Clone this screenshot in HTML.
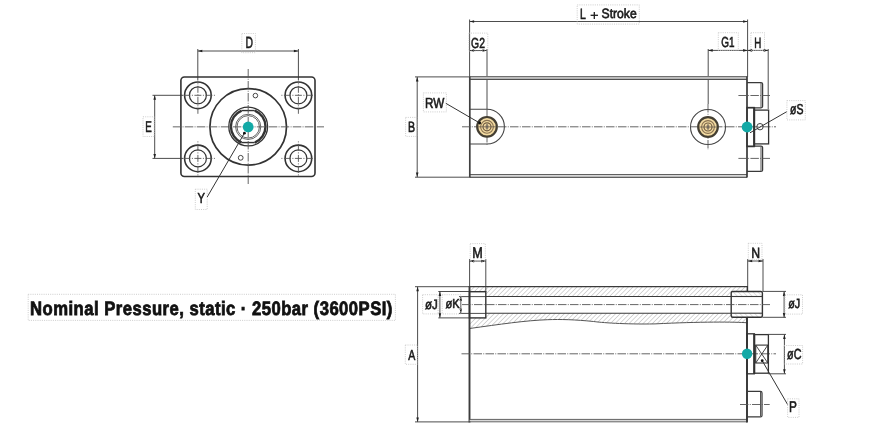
<!DOCTYPE html>
<html><head><meta charset="utf-8"><style>
html,body{margin:0;padding:0;background:#fff;width:870px;height:435px;overflow:hidden}
svg{display:block;font-family:"Liberation Sans",sans-serif;will-change:transform;text-rendering:geometricPrecision}
</style></head><body>
<svg width="870" height="435" viewBox="0 0 870 435">
<line x1="197.8" y1="49" x2="197.8" y2="80.5" stroke="#4d4d4d" stroke-width="1.0" />
<line x1="298.4" y1="49" x2="298.4" y2="80.5" stroke="#4d4d4d" stroke-width="1.0" />
<line x1="197.8" y1="51" x2="298.4" y2="51" stroke="#4d4d4d" stroke-width="1.0" />
<polygon points="197.8,51 202.30,49.70 202.30,52.30" fill="#222"/>
<polygon points="298.4,51 293.90,52.30 293.90,49.70" fill="#222"/>
<rect x="241.8" y="33.5" width="13.60" height="19.20" fill="none" stroke="#c0c0c0" stroke-width="0.8" stroke-dasharray="1 1.2"/>
<line x1="152.5" y1="95.3" x2="183" y2="95.3" stroke="#4d4d4d" stroke-width="1.0" />
<line x1="152.5" y1="158.4" x2="183" y2="158.4" stroke="#4d4d4d" stroke-width="1.0" />
<line x1="154.7" y1="95.3" x2="154.7" y2="158.4" stroke="#4d4d4d" stroke-width="1.0" />
<polygon points="154.7,95.3 156.00,99.80 153.40,99.80" fill="#222"/>
<polygon points="154.7,158.4 153.40,153.90 156.00,153.90" fill="#222"/>
<rect x="143" y="116.8" width="11.20" height="19.70" fill="none" stroke="#c0c0c0" stroke-width="0.8" stroke-dasharray="1 1.2"/>
<rect x="180.9" y="77.0" width="134.1" height="99.5" rx="3.5" fill="none" stroke="#333" stroke-width="1.6"/>
<circle cx="197.9" cy="95.3" r="13.3" stroke="#333" stroke-width="1.6" fill="none"/>
<circle cx="197.9" cy="95.3" r="8.5" stroke="#333" stroke-width="1.2" fill="none"/>
<line x1="179.4" y1="95.3" x2="216.4" y2="95.3" stroke="#555" stroke-width="0.9" stroke-dasharray="7 1.5 1 1.5" stroke-dashoffset="-4"/>
<line x1="197.9" y1="82.3" x2="197.9" y2="113.8" stroke="#555" stroke-width="0.9" stroke-dasharray="7 1.5 1 1.5" stroke-dashoffset="-3.5"/>
<circle cx="197.9" cy="158.4" r="13.3" stroke="#333" stroke-width="1.6" fill="none"/>
<circle cx="197.9" cy="158.4" r="8.5" stroke="#333" stroke-width="1.2" fill="none"/>
<line x1="179.4" y1="158.4" x2="216.4" y2="158.4" stroke="#555" stroke-width="0.9" stroke-dasharray="7 1.5 1 1.5" stroke-dashoffset="-4"/>
<line x1="197.9" y1="139.9" x2="197.9" y2="176.9" stroke="#555" stroke-width="0.9" stroke-dasharray="7 1.5 1 1.5" stroke-dashoffset="-4"/>
<circle cx="298.4" cy="95.3" r="13.3" stroke="#333" stroke-width="1.6" fill="none"/>
<circle cx="298.4" cy="95.3" r="8.5" stroke="#333" stroke-width="1.2" fill="none"/>
<line x1="279.9" y1="95.3" x2="316.9" y2="95.3" stroke="#555" stroke-width="0.9" stroke-dasharray="7 1.5 1 1.5" stroke-dashoffset="-4"/>
<line x1="298.4" y1="82.3" x2="298.4" y2="113.8" stroke="#555" stroke-width="0.9" stroke-dasharray="7 1.5 1 1.5" stroke-dashoffset="-3.5"/>
<circle cx="298.4" cy="158.4" r="13.3" stroke="#333" stroke-width="1.6" fill="none"/>
<circle cx="298.4" cy="158.4" r="8.5" stroke="#333" stroke-width="1.2" fill="none"/>
<line x1="279.9" y1="158.4" x2="316.9" y2="158.4" stroke="#555" stroke-width="0.9" stroke-dasharray="7 1.5 1 1.5" stroke-dashoffset="-4"/>
<line x1="298.4" y1="139.9" x2="298.4" y2="176.9" stroke="#555" stroke-width="0.9" stroke-dasharray="7 1.5 1 1.5" stroke-dashoffset="-4"/>
<circle cx="248.2" cy="126.85" r="38.3" stroke="#333" stroke-width="1.7" fill="none"/>
<circle cx="255.4" cy="95.6" r="2.3" stroke="#333" stroke-width="0.9" fill="none"/>
<circle cx="240.7" cy="157.8" r="2.4" stroke="#333" stroke-width="0.9" fill="none"/>
<circle cx="248.2" cy="126.55" r="19.4" stroke="#333" stroke-width="1.3" fill="none"/>
<path d="M241.62,110.55 A17.3,17.3 0 0 0 241.62,142.55" stroke="#333" stroke-width="2.4" fill="none" />
<path d="M254.78,110.55 A17.3,17.3 0 0 1 254.78,142.55" stroke="#333" stroke-width="2.4" fill="none" />
<line x1="241.6204863401616" y1="110.55" x2="254.7795136598384" y2="110.55" stroke="#333" stroke-width="1.4" />
<line x1="241.6204863401616" y1="142.55" x2="254.7795136598384" y2="142.55" stroke="#333" stroke-width="1.4" />
<circle cx="248.2" cy="126.85" r="12.6" stroke="#555" stroke-width="0.9" fill="none"/>
<circle cx="248.2" cy="126.85" r="11.2" stroke="#555" stroke-width="0.9" fill="none"/>
<line x1="172.8" y1="126.85" x2="324" y2="126.85" stroke="#555" stroke-width="0.9" stroke-dasharray="8.5 1.3 0.9 1.3"/>
<line x1="248.2" y1="69" x2="248.2" y2="184" stroke="#555" stroke-width="0.9" stroke-dasharray="8.5 1.3 0.9 1.3"/>
<circle cx="248.2" cy="126.94999999999999" r="5.4" stroke="#13a9a6" stroke-width="0" fill="#13a9a6"/>
<line x1="244.4" y1="133.2" x2="207.2" y2="197" stroke="#333" stroke-width="1.0" />
<circle cx="244.4" cy="133.2" r="1.4" stroke="#111" stroke-width="0" fill="#111"/>
<rect x="195.3" y="189.2" width="11.90" height="20.30" fill="none" stroke="#c0c0c0" stroke-width="0.8" stroke-dasharray="1 1.2"/>
<line x1="469.6" y1="19.5" x2="469.6" y2="77" stroke="#4d4d4d" stroke-width="1.0" />
<line x1="747.6" y1="19.5" x2="747.6" y2="77" stroke="#4d4d4d" stroke-width="1.0" />
<line x1="469.6" y1="21.5" x2="747.6" y2="21.5" stroke="#4d4d4d" stroke-width="1.0" />
<polygon points="469.6,21.5 474.10,20.20 474.10,22.80" fill="#222"/>
<polygon points="747.6,21.5 743.10,22.80 743.10,20.20" fill="#222"/>
<rect x="577.2" y="4.9" width="62.10" height="19.20" fill="none" stroke="#c0c0c0" stroke-width="0.8" stroke-dasharray="1 1.2"/>
<line x1="590.6" y1="15.3" x2="598" y2="15.3" stroke="#1e1e1e" stroke-width="1.3" />
<line x1="594.3" y1="11.9" x2="594.3" y2="18.9" stroke="#1e1e1e" stroke-width="1.3" />
<line x1="487" y1="49" x2="487" y2="109.5" stroke="#4d4d4d" stroke-width="1.0" />
<line x1="469.6" y1="50.5" x2="487" y2="50.5" stroke="#4d4d4d" stroke-width="1.0" />
<polygon points="469.6,50.5 474.10,49.20 474.10,51.80" fill="#222"/>
<polygon points="487,50.5 482.50,51.80 482.50,49.20" fill="#222"/>
<rect x="468.8" y="33.1" width="19.00" height="17.90" fill="none" stroke="#c0c0c0" stroke-width="0.8" stroke-dasharray="1 1.2"/>
<line x1="708.2" y1="49" x2="708.2" y2="104" stroke="#4d4d4d" stroke-width="1.0" />
<line x1="708.2" y1="50.4" x2="747.6" y2="50.4" stroke="#4d4d4d" stroke-width="1.0" />
<polygon points="708.2,50.4 712.70,49.10 712.70,51.70" fill="#222"/>
<polygon points="747.6,50.4 743.10,51.70 743.10,49.10" fill="#222"/>
<rect x="718.3" y="32.7" width="20.00" height="17.80" fill="none" stroke="#c0c0c0" stroke-width="0.8" stroke-dasharray="1 1.2"/>
<line x1="768.2" y1="49" x2="768.2" y2="109" stroke="#4d4d4d" stroke-width="1.0" />
<line x1="747.6" y1="50.4" x2="768.2" y2="50.4" stroke="#4d4d4d" stroke-width="1.0" />
<polygon points="747.6,50.4 752.10,49.10 752.10,51.70" fill="#222"/>
<polygon points="768.2,50.4 763.70,51.70 763.70,49.10" fill="#222"/>
<rect x="750.9" y="32.7" width="13.60" height="17.80" fill="none" stroke="#c0c0c0" stroke-width="0.8" stroke-dasharray="1 1.2"/>
<line x1="415" y1="76.9" x2="469.6" y2="76.9" stroke="#4d4d4d" stroke-width="1.0" />
<line x1="415" y1="177.2" x2="469.6" y2="177.2" stroke="#4d4d4d" stroke-width="1.0" />
<line x1="417.2" y1="77" x2="417.2" y2="177.1" stroke="#4d4d4d" stroke-width="1.0" />
<polygon points="417.2,77 418.50,81.50 415.90,81.50" fill="#222"/>
<polygon points="417.2,177.1 415.90,172.60 418.50,172.60" fill="#222"/>
<rect x="405.6" y="117.4" width="11.30" height="19.00" fill="none" stroke="#c0c0c0" stroke-width="0.8" stroke-dasharray="1 1.2"/>
<rect x="423.4" y="92.9" width="23.00" height="19.00" fill="none" stroke="#c0c0c0" stroke-width="0.8" stroke-dasharray="1 1.2"/>
<rect x="469.6" y="77" width="277.4" height="2" fill="#d8d8d8"/>
<rect x="469.6" y="175" width="277.4" height="2" fill="#d8d8d8"/>
<line x1="469.6" y1="76.6" x2="747" y2="76.6" stroke="#707070" stroke-width="1.1" />
<line x1="469.6" y1="79.4" x2="747" y2="79.4" stroke="#505050" stroke-width="1.1" />
<line x1="469.6" y1="174.5" x2="747" y2="174.5" stroke="#606060" stroke-width="1.1" />
<line x1="469.6" y1="177.4" x2="747" y2="177.4" stroke="#606060" stroke-width="1.1" />
<line x1="469.8" y1="76.5" x2="469.8" y2="177.5" stroke="#404040" stroke-width="1.7" />
<line x1="747" y1="76.5" x2="747" y2="177.5" stroke="#383838" stroke-width="1.7" />
<path d="M469.8,109.2 H487 A17.4,17.4 0 0 1 487,144 H469.8" stroke="#444" stroke-width="1.1" fill="none" />
<circle cx="708" cy="127" r="17.5" stroke="#444" stroke-width="1.1" fill="none"/>
<line x1="462" y1="126.8" x2="776" y2="126.8" stroke="#555" stroke-width="0.9" stroke-dasharray="8.5 1.3 0.9 1.3"/>
<line x1="487" y1="110" x2="487" y2="146" stroke="#555" stroke-width="0.9" stroke-dasharray="8.5 1.3 0.9 1.3"/>
<line x1="708" y1="104" x2="708" y2="150" stroke="#555" stroke-width="0.9" stroke-dasharray="8.5 1.3 0.9 1.3"/>
<circle cx="487" cy="126.8" r="9.8" stroke="#443f33" stroke-width="2.2" fill="#f3dba2"/>
<circle cx="487" cy="126.8" r="6.4" stroke="#8a7352" stroke-width="1.1" fill="none"/>
<circle cx="487" cy="126.8" r="4.0" stroke="#6f5a40" stroke-width="1.2" fill="none"/>
<circle cx="487" cy="126.8" r="2.2" stroke="#c9b089" stroke-width="0" fill="#c9b089"/>
<line x1="478" y1="126.8" x2="496" y2="126.8" stroke="#6a6050" stroke-width="0.8" />
<line x1="487" y1="124.0" x2="487" y2="129.6" stroke="#444" stroke-width="0.9" />
<circle cx="708" cy="127" r="9.8" stroke="#443f33" stroke-width="2.2" fill="#f3dba2"/>
<circle cx="708" cy="127" r="6.4" stroke="#8a7352" stroke-width="1.1" fill="none"/>
<circle cx="708" cy="127" r="4.0" stroke="#6f5a40" stroke-width="1.2" fill="none"/>
<circle cx="708" cy="127" r="2.2" stroke="#c9b089" stroke-width="0" fill="#c9b089"/>
<line x1="699" y1="127" x2="717" y2="127" stroke="#6a6050" stroke-width="0.8" />
<line x1="708" y1="124.2" x2="708" y2="129.8" stroke="#444" stroke-width="0.9" />
<line x1="445.8" y1="103.3" x2="479.7" y2="123" stroke="#333" stroke-width="1.0" />
<circle cx="479.7" cy="123" r="1.4" stroke="#111" stroke-width="0" fill="#111"/>
<path d="M747,82.5 H761 Q762.6,82.5 762.6,84 V106.3 Q762.6,107.8 761,107.8 H747" stroke="#3a3a3a" stroke-width="1.25" fill="none" />
<line x1="761" y1="83" x2="761" y2="107.3" stroke="#555" stroke-width="1.0" />
<path d="M747,146.1 H761 Q762.6,146.1 762.6,147.6 V169.9 Q762.6,171.4 761,171.4 H747" stroke="#3a3a3a" stroke-width="1.25" fill="none" />
<line x1="761" y1="146.6" x2="761" y2="170.9" stroke="#555" stroke-width="1.0" />
<line x1="738.4" y1="95.5" x2="770" y2="95.5" stroke="#555" stroke-width="0.9" stroke-dasharray="8.5 1.3 0.9 1.3"/>
<line x1="738.4" y1="158.4" x2="770" y2="158.4" stroke="#555" stroke-width="0.9" stroke-dasharray="8.5 1.3 0.9 1.3"/>
<rect x="747" y="107.5" width="7.2" height="39.1" fill="none" stroke="#333" stroke-width="1.3"/>
<line x1="754.2" y1="107.5" x2="754.2" y2="146.6" stroke="#333" stroke-width="2.0" />
<rect x="754.2" y="110.1" width="14.4" height="33.8" fill="none" stroke="#333" stroke-width="1.3"/>
<circle cx="760" cy="126.7" r="3.2" stroke="#444" stroke-width="1.0" fill="none"/>
<circle cx="747.1" cy="127" r="5.4" stroke="#13a9a6" stroke-width="0" fill="#13a9a6"/>
<line x1="750" y1="132.8" x2="786.9" y2="111.6" stroke="#333" stroke-width="1.0" />
<rect x="786.9" y="100.6" width="18.40" height="19.30" fill="none" stroke="#c0c0c0" stroke-width="0.8" stroke-dasharray="1 1.2"/>
<defs><pattern id="h" patternUnits="userSpaceOnUse" width="3.3" height="3.3" patternTransform="rotate(45)"><line x1="0" y1="0" x2="0" y2="3.3" stroke="#949494" stroke-width="0.75"/></pattern><pattern id="h2" patternUnits="userSpaceOnUse" width="3.5" height="3.5" patternTransform="rotate(-45)"><line x1="0" y1="0" x2="0" y2="3.5" stroke="#b0b0b0" stroke-width="0.7"/></pattern><clipPath id="c1"><rect x="0" y="0" width="870" height="435"/></clipPath></defs>
<path d="M469.6,286.6 H747.5 V291.5 H731.2 V296.5 H485.8 V291.7 H469.6 Z" fill="url(#h)"/>
<path d="M485.8,313.3 H731.2 V317.3 H747.5 V322.8 C735,321.8 700,321.6 655,323.9 C625,324.5 600,322.5 593.7,321.5 C575,319.6 560,319.2 547.8,319.7 C525,320.5 500,324.3 469.6,328.5 V317.9 H485.8 Z" fill="url(#h)"/>
<path d="M731.2,291.5 H762.4 V296.5 H731.2 Z M731.2,313.2 H762.4 V317.3 H731.2 Z" fill="url(#h2)"/>
<path d="M747.5,322.8 C735,321.8 700,321.6 655,323.9 C625,324.5 600,322.5 593.7,321.5 C575,319.6 560,319.2 547.8,319.7 C525,320.5 500,324.3 469.6,328.5" stroke="#555" stroke-width="1.0" fill="none" />
<line x1="469.6" y1="259" x2="469.6" y2="287" stroke="#4d4d4d" stroke-width="1.0" />
<line x1="485.8" y1="259" x2="485.8" y2="291.7" stroke="#4d4d4d" stroke-width="1.0" />
<line x1="469.6" y1="261.1" x2="485.8" y2="261.1" stroke="#4d4d4d" stroke-width="1.0" />
<polygon points="469.6,261.1 474.10,259.80 474.10,262.40" fill="#222"/>
<polygon points="485.8,261.1 481.30,262.40 481.30,259.80" fill="#222"/>
<rect x="470.2" y="243.6" width="15.10" height="17.60" fill="none" stroke="#c0c0c0" stroke-width="0.8" stroke-dasharray="1 1.2"/>
<line x1="747.7" y1="259" x2="747.7" y2="291.4" stroke="#4d4d4d" stroke-width="1.0" />
<line x1="763" y1="259" x2="763" y2="291.4" stroke="#4d4d4d" stroke-width="1.0" />
<line x1="747.7" y1="261.0" x2="763" y2="261.0" stroke="#4d4d4d" stroke-width="1.0" />
<polygon points="747.7,261.0 752.20,259.70 752.20,262.30" fill="#222"/>
<polygon points="763,261.0 758.50,262.30 758.50,259.70" fill="#222"/>
<rect x="748.3" y="243.3" width="13.70" height="16.50" fill="none" stroke="#c0c0c0" stroke-width="0.8" stroke-dasharray="1 1.2"/>
<line x1="415" y1="286.7" x2="469.6" y2="286.7" stroke="#4d4d4d" stroke-width="1.0" />
<line x1="415" y1="421.9" x2="469.6" y2="421.9" stroke="#4d4d4d" stroke-width="1.0" />
<line x1="417.6" y1="286.8" x2="417.6" y2="421.9" stroke="#4d4d4d" stroke-width="1.0" />
<polygon points="417.6,286.8 418.90,291.30 416.30,291.30" fill="#222"/>
<polygon points="417.6,421.9 416.30,417.40 418.90,417.40" fill="#222"/>
<rect x="405.3" y="345.0" width="12.10" height="19.30" fill="none" stroke="#c0c0c0" stroke-width="0.8" stroke-dasharray="1 1.2"/>
<line x1="438.3" y1="291.5" x2="469.6" y2="291.5" stroke="#4d4d4d" stroke-width="1.0" />
<line x1="438.3" y1="317.9" x2="469.6" y2="317.9" stroke="#4d4d4d" stroke-width="1.0" />
<line x1="439.9" y1="291.6" x2="439.9" y2="317.8" stroke="#4d4d4d" stroke-width="1.0" />
<polygon points="439.9,291.6 441.20,296.10 438.60,296.10" fill="#222"/>
<polygon points="439.9,317.8 438.60,313.30 441.20,313.30" fill="#222"/>
<rect x="422.6" y="294.7" width="15.50" height="19.20" fill="none" stroke="#c0c0c0" stroke-width="0.8" stroke-dasharray="1 1.2"/>
<line x1="459" y1="296.6" x2="486" y2="296.6" stroke="#4d4d4d" stroke-width="1.0" />
<line x1="459" y1="313.4" x2="486" y2="313.4" stroke="#4d4d4d" stroke-width="1.0" />
<line x1="460.8" y1="296.6" x2="460.8" y2="313.3" stroke="#4d4d4d" stroke-width="1.0" />
<polygon points="460.8,296.6 462.10,301.10 459.50,301.10" fill="#222"/>
<polygon points="460.8,313.3 459.50,308.80 462.10,308.80" fill="#222"/>
<rect x="442.2" y="294.7" width="18.70" height="19.20" fill="none" stroke="#c0c0c0" stroke-width="0.8" stroke-dasharray="1 1.2"/>
<line x1="469.6" y1="286.6" x2="747.8" y2="286.6" stroke="#3a3a3a" stroke-width="1.1" />
<line x1="469.5" y1="286" x2="469.5" y2="422.5" stroke="#3c3c3c" stroke-width="1.9" />
<rect x="469.6" y="420" width="277.4" height="1.2" fill="#d8d8d8"/>
<line x1="469.6" y1="419.4" x2="747" y2="419.4" stroke="#606060" stroke-width="1.0" />
<line x1="469.6" y1="421.8" x2="747" y2="421.8" stroke="#606060" stroke-width="1.0" />
<line x1="747.3" y1="286" x2="747.3" y2="291.4" stroke="#333" stroke-width="1.3" />
<line x1="747.0" y1="317.7" x2="747.0" y2="422.5" stroke="#333" stroke-width="1.9" />
<rect x="469.5" y="291.7" width="16.3" height="26.2" fill="none" stroke="#333" stroke-width="1.4"/>
<line x1="485.8" y1="296.5" x2="731.3" y2="296.5" stroke="#3a3a3a" stroke-width="1.1" />
<line x1="485.8" y1="313.2" x2="731.3" y2="313.2" stroke="#3a3a3a" stroke-width="1.1" />
<rect x="731.2" y="291.5" width="31.2" height="25.8" rx="1.5" fill="none" stroke="#333" stroke-width="1.4"/>
<line x1="731.2" y1="296.5" x2="762.4" y2="296.5" stroke="#3a3a3a" stroke-width="1.1" />
<line x1="731.2" y1="313.2" x2="762.4" y2="313.2" stroke="#3a3a3a" stroke-width="1.1" />
<line x1="762.5" y1="291.4" x2="786" y2="291.4" stroke="#4d4d4d" stroke-width="1.0" />
<line x1="762.5" y1="317.3" x2="786" y2="317.3" stroke="#4d4d4d" stroke-width="1.0" />
<line x1="784.1" y1="291.5" x2="784.1" y2="317.6" stroke="#4d4d4d" stroke-width="1.0" />
<polygon points="784.1,291.5 785.40,296.00 782.80,296.00" fill="#222"/>
<polygon points="784.1,317.6 782.80,313.10 785.40,313.10" fill="#222"/>
<rect x="785" y="294.8" width="17.50" height="19.30" fill="none" stroke="#c0c0c0" stroke-width="0.8" stroke-dasharray="1 1.2"/>
<line x1="462" y1="304.6" x2="770" y2="304.6" stroke="#555" stroke-width="0.9" stroke-dasharray="8.5 1.3 0.9 1.3"/>
<line x1="461.5" y1="353.8" x2="776" y2="353.8" stroke="#555" stroke-width="0.9" stroke-dasharray="8.5 1.3 0.9 1.3"/>
<rect x="747" y="333.8" width="7.3" height="40" fill="none" stroke="#333" stroke-width="1.3"/>
<line x1="754.3" y1="333.8" x2="754.3" y2="373.8" stroke="#333" stroke-width="2.0" />
<rect x="754.3" y="334.6" width="14.1" height="38.6" fill="none" stroke="#333" stroke-width="1.3"/>
<rect x="755.7" y="345.1" width="12.1" height="17.9" fill="none" stroke="#333" stroke-width="1.1"/>
<line x1="755.7" y1="345.1" x2="767.8" y2="363" stroke="#333" stroke-width="0.9" />
<line x1="767.8" y1="345.1" x2="755.7" y2="363" stroke="#333" stroke-width="0.9" />
<line x1="768.4" y1="334.4" x2="786" y2="334.4" stroke="#4d4d4d" stroke-width="1.0" />
<line x1="768.4" y1="373.8" x2="786" y2="373.8" stroke="#4d4d4d" stroke-width="1.0" />
<line x1="784.4" y1="334.5" x2="784.4" y2="373.7" stroke="#4d4d4d" stroke-width="1.0" />
<polygon points="784.4,334.5 785.70,339.00 783.10,339.00" fill="#222"/>
<polygon points="784.4,373.7 783.10,369.20 785.70,369.20" fill="#222"/>
<rect x="784" y="345.5" width="18.60" height="18.50" fill="none" stroke="#c0c0c0" stroke-width="0.8" stroke-dasharray="1 1.2"/>
<circle cx="747.1" cy="353.8" r="5.2" stroke="#13a9a6" stroke-width="0" fill="#13a9a6"/>
<line x1="762.2" y1="360.7" x2="787.6" y2="404.5" stroke="#333" stroke-width="1.0" />
<circle cx="762.2" cy="360.7" r="1.4" stroke="#111" stroke-width="0" fill="#111"/>
<rect x="787.6" y="398.8" width="11.40" height="18.60" fill="none" stroke="#c0c0c0" stroke-width="0.8" stroke-dasharray="1 1.2"/>
<path d="M747,391.4 H760.5 Q762,391.4 762,392.9 V415.4 Q762,416.9 760.5,416.9 H747" stroke="#3a3a3a" stroke-width="1.25" fill="none" />
<line x1="760.5" y1="391.9" x2="760.5" y2="416.4" stroke="#555" stroke-width="1.0" />
<line x1="740" y1="404.5" x2="769.7" y2="404.5" stroke="#555" stroke-width="0.9" stroke-dasharray="8.5 1.3 0.9 1.3"/>
<rect x="28.2" y="294.3" width="367.20" height="26.10" fill="none" stroke="#c0c0c0" stroke-width="0.8" stroke-dasharray="1 1.2"/>
<text x="245.38" y="48.27" font-size="16.12" font-weight="normal" fill="#1a1a1a" stroke="#1a1a1a" stroke-width="0.62" textLength="7.48" lengthAdjust="spacingAndGlyphs">D</text>
<text x="145.37" y="132.43" font-size="15.63" font-weight="normal" fill="#1a1a1a" stroke="#1a1a1a" stroke-width="0.62" textLength="6.53" lengthAdjust="spacingAndGlyphs">E</text>
<text x="197.47" y="203.24" font-size="14.49" font-weight="normal" fill="#1a1a1a" stroke="#1a1a1a" stroke-width="0.62" textLength="7.44" lengthAdjust="spacingAndGlyphs">Y</text>
<text x="579.96" y="18.53" font-size="14.86" font-weight="normal" fill="#1a1a1a" stroke="#1a1a1a" stroke-width="0.62" textLength="5.84" lengthAdjust="spacingAndGlyphs">L</text>
<text x="601.53" y="17.58" font-size="13.48" font-weight="normal" fill="#1a1a1a" stroke="#1a1a1a" stroke-width="0.62" textLength="35.19" lengthAdjust="spacingAndGlyphs">Stroke</text>
<text x="471.12" y="47.72" font-size="14.51" font-weight="normal" fill="#1a1a1a" stroke="#1a1a1a" stroke-width="0.62" textLength="13.78" lengthAdjust="spacingAndGlyphs">G2</text>
<text x="721.37" y="47.42" font-size="14.50" font-weight="normal" fill="#1a1a1a" stroke="#1a1a1a" stroke-width="0.62" textLength="13.21" lengthAdjust="spacingAndGlyphs">G1</text>
<text x="754.15" y="47.89" font-size="14.93" font-weight="normal" fill="#1a1a1a" stroke="#1a1a1a" stroke-width="0.62" textLength="7.04" lengthAdjust="spacingAndGlyphs">H</text>
<text x="407.88" y="132.27" font-size="14.98" font-weight="normal" fill="#1a1a1a" stroke="#1a1a1a" stroke-width="0.62" textLength="7.09" lengthAdjust="spacingAndGlyphs">B</text>
<text x="425.09" y="107.59" font-size="14.61" font-weight="normal" fill="#1a1a1a" stroke="#1a1a1a" stroke-width="0.62" textLength="19.31" lengthAdjust="spacingAndGlyphs">RW</text>
<text x="790.04" y="113.65" font-size="14.42" font-weight="normal" fill="#1a1a1a" stroke="#1a1a1a" stroke-width="0.62" textLength="13.43" lengthAdjust="spacingAndGlyphs">&#248;S</text>
<text x="472.14" y="258.27" font-size="15.63" font-weight="normal" fill="#1a1a1a" stroke="#1a1a1a" stroke-width="0.62" textLength="10.53" lengthAdjust="spacingAndGlyphs">M</text>
<text x="751.32" y="257.79" font-size="14.98" font-weight="normal" fill="#1a1a1a" stroke="#1a1a1a" stroke-width="0.62" textLength="8.85" lengthAdjust="spacingAndGlyphs">N</text>
<text x="408.18" y="359.61" font-size="14.53" font-weight="normal" fill="#1a1a1a" stroke="#1a1a1a" stroke-width="0.62" textLength="7.05" lengthAdjust="spacingAndGlyphs">A</text>
<text x="424.95" y="308.53" font-size="13.47" font-weight="normal" fill="#1a1a1a" stroke="#1a1a1a" stroke-width="0.62" textLength="12.76" lengthAdjust="spacingAndGlyphs">&#248;J</text>
<text x="445.59" y="308.25" font-size="13.07" font-weight="normal" fill="#1a1a1a" stroke="#1a1a1a" stroke-width="0.62" textLength="14.12" lengthAdjust="spacingAndGlyphs">&#248;K</text>
<text x="788.13" y="308.25" font-size="13.23" font-weight="normal" fill="#1a1a1a" stroke="#1a1a1a" stroke-width="0.62" textLength="11.94" lengthAdjust="spacingAndGlyphs">&#248;J</text>
<text x="787.09" y="359.39" font-size="14.60" font-weight="normal" fill="#1a1a1a" stroke="#1a1a1a" stroke-width="0.62" textLength="14.40" lengthAdjust="spacingAndGlyphs">&#248;C</text>
<text x="789.08" y="412.46" font-size="15.69" font-weight="normal" fill="#1a1a1a" stroke="#1a1a1a" stroke-width="0.62" textLength="7.87" lengthAdjust="spacingAndGlyphs">P</text>
<text transform="translate(30.08,314.70) scale(0.86,1)" x="0" y="0" font-size="19.36" font-weight="bold" fill="#111" stroke="#111" stroke-width="0.8" textLength="421.31" lengthAdjust="spacing">Nominal Pressure, static &#183; 250bar (3600PSI)</text>
</svg>
</body></html>
